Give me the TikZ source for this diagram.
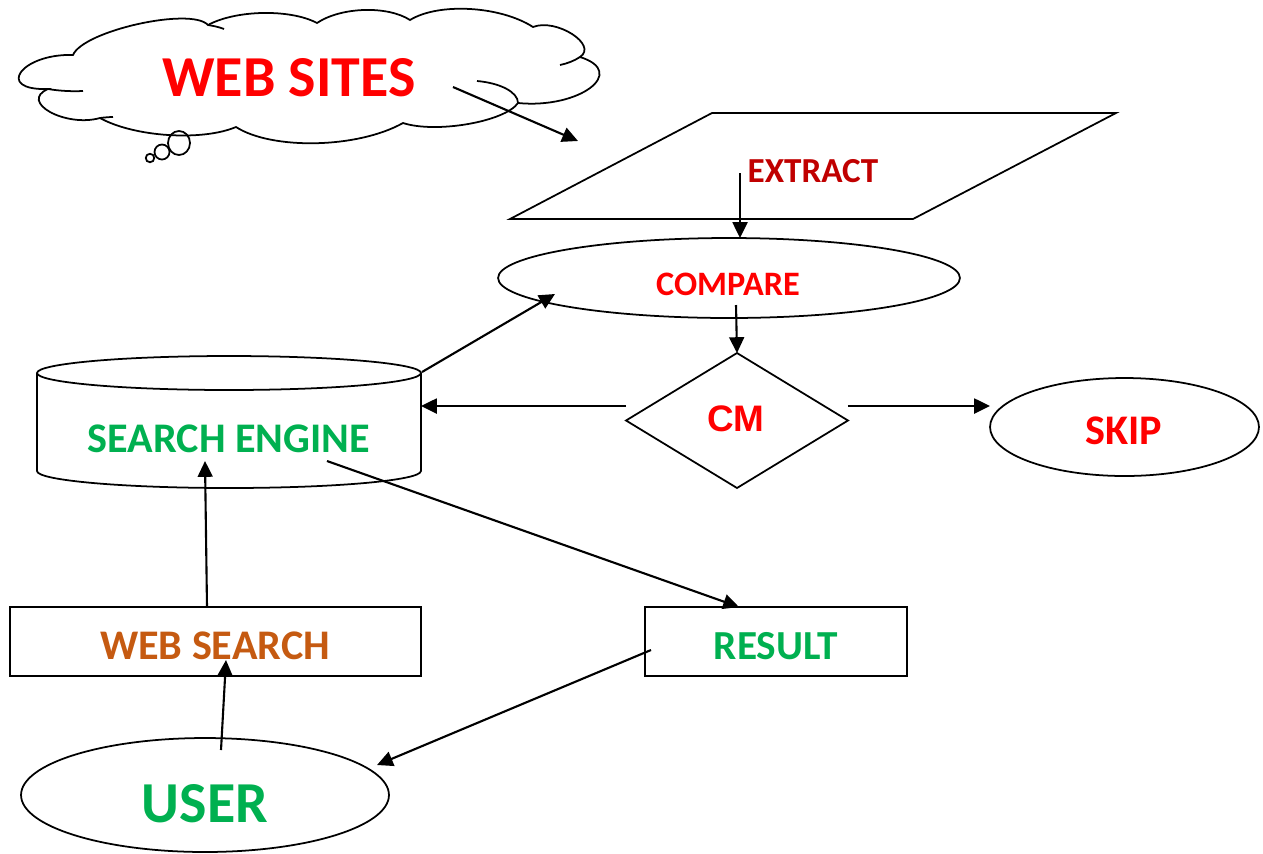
\documentclass[tikz,border=0pt]{standalone}
\usepackage{fontspec}
\setmainfont{Carlito}
\newfontfamily\arialfont{Liberation Sans}
\usetikzlibrary{shapes.geometric,arrows.meta}
\definecolor{cred}{HTML}{FF0000}
\definecolor{cdarkred}{HTML}{C00000}
\definecolor{corange}{HTML}{C55A11}
\definecolor{cgreen}{HTML}{00B050}
\begin{document}
\begin{tikzpicture}[x=0.02cm,y=0.02cm,
  shapeline/.style={draw=black,line width=1pt},
  arr/.style={-{Triangle[length=9pt,width=8.5pt]},line width=1.2pt},
  lbl/.style={inner sep=0pt,outer sep=0pt},
  ell/.style={ellipse,shapeline,inner sep=0pt,outer sep=0pt},
  box/.style={rectangle,shapeline,inner sep=0pt,outer sep=0pt}]
\useasboundingbox (0,0) rectangle (1263,-853);

% ---------- cloud ----------
\draw[shapeline]
  (73,-55) .. controls (83.2,-30.7) and (191.2,-6.7) .. (208,-25)
  .. controls (235.9,-9.8) and (290.4,-8.8) .. (317,-23)
  .. controls (340.9,-6.9) and (387.5,-5.4) .. (410,-20)
  .. controls (438.7,-2.4) and (500.3,-5.9) .. (533,-27)
  .. controls (556,-17.8) and (598.4,-44.8) .. (580,-57)
  .. controls (628.5,-72.3) and (578.9,-109.1) .. (518,-103)
  .. controls (505,-121.7) and (436,-133.7) .. (403,-123)
  .. controls (356.9,-148.8) and (271.4,-149.8) .. (236,-127)
  .. controls (202,-141.4) and (134,-136.9) .. (100,-118)
  .. controls (65.4,-127.8) and (18.6,-101.8) .. (48,-89)
  .. controls (-5.9,-90.7) and (21.6,-53.3) .. (73,-55) -- cycle;
\draw[shapeline] (48,-89) .. controls (60,-91) and (72,-91.5) .. (83,-91);
\draw[shapeline] (100,-118) .. controls (104,-117.5) and (109,-117) .. (113,-117);
\draw[shapeline] (208,-25) .. controls (214,-26) and (219,-27) .. (224,-29);
\draw[shapeline] (580,-57) .. controls (574,-61) and (567,-63.5) .. (560,-65);
\draw[shapeline] (477,-81) .. controls (500,-83) and (518,-92) .. (518,-103);
\draw[shapeline] (179,-143) ellipse [x radius=0.22cm, y radius=0.24cm];
\draw[shapeline] (162,-152) ellipse [x radius=0.15cm, y radius=0.15cm];
\draw[shapeline] (150,-158) circle [radius=0.085cm];
\node[lbl,text=cred,font=\bfseries\fontsize{33}{36}\selectfont] (websites) at (289,-78) {WEB SITES};

% ---------- shapes ----------
\draw[shapeline] (510,-219) -- (712,-113) -- (1116,-113) -- (913,-219) -- cycle;
\node[lbl,text=cdarkred,font=\bfseries\fontsize{20}{24}\selectfont] (extract) at (813,-171.5) {EXTRACT};

\node[ell,minimum width=9.24cm,minimum height=1.6cm] (compare) at (729,-278) {};
\node[lbl,text=cred,font=\bfseries\fontsize{19.5}{23}\selectfont] (comparetext) at (728,-284) {COMPARE};

\node[diamond,shapeline,inner sep=0pt,outer sep=0pt,minimum width=4.44cm,minimum height=2.7cm] (cm) at (737,-420.5) {};
\node[lbl,text=cred,font=\arialfont\bfseries\fontsize{21}{25}\selectfont] (cmtext) at (736,-418.5) {CM};

\node[ell,minimum width=5.38cm,minimum height=1.96cm] (skip) at (1124.5,-427) {};
\node[lbl,text=cred,font=\bfseries\fontsize{24}{28}\selectfont] (skiptext) at (1124,-431) {SKIP};

% search engine cylinder
\node[lbl,minimum width=7.68cm,minimum height=2.64cm] (se) at (229,-422) {};
\draw[shapeline] (37,-373) -- (37,-471) arc[start angle=180,end angle=360,x radius=3.84cm,y radius=0.34cm] -- (421,-373);
\draw[shapeline] (229,-373) ellipse [x radius=3.84cm, y radius=0.34cm];
\node[lbl,text=cgreen,font=\bfseries\fontsize{24}{28}\selectfont] (setext) at (229,-438.5) {SEARCH ENGINE};

\node[box,minimum width=8.22cm,minimum height=1.38cm] (websearch) at (215.5,-641.5) {};
\node[lbl,text=corange,font=\bfseries\fontsize{24}{28}\selectfont] (websearchtext) at (215,-645.5) {WEB SEARCH};

\node[box,minimum width=5.24cm,minimum height=1.38cm] (result) at (776,-641.5) {};
\node[lbl,text=cgreen,font=\bfseries\fontsize{23.5}{28}\selectfont] (resulttext) at (776,-646) {RESULT};

\node[ell,minimum width=7.36cm,minimum height=2.28cm] (user) at (205,-795) {};
\node[lbl,text=cgreen,font=\bfseries\fontsize{33}{38}\selectfont] (usertext) at (205,-803.5) {USER};

% ---------- connector end points ----------
\coordinate (a1) at (453,-87);
\coordinate (a2) at (578,-141);
\coordinate (e1) at (740,-173);
\coordinate (c1) at (736,-305);
\coordinate (s1) at (422,-372);
\coordinate (s2) at (555,-294);
\coordinate (r1) at (327,-461);
\coordinate (r2) at (739,-607);
\coordinate (w1) at (207,-607);
\coordinate (w2) at (205,-461);
\coordinate (u1) at (221,-750);
\coordinate (u2) at (226,-660);
\coordinate (t1) at (651,-650);
\coordinate (t2) at (377,-765);

% ---------- connectors ----------
\draw[arr] (a1) -- (a2);
\draw[arr] (e1) -- (e1 |- compare.north);
\draw[arr] (c1) -- (cm.north);
\draw[arr] ([yshift=0.29cm]cm.east) -- ([yshift=0.29cm]cm.east -| skip.west);
\draw[arr] ([yshift=0.29cm]cm.west) -- ([yshift=0.29cm]cm.west -| se.east);
\draw[arr] (s1) -- (s2);
\draw[arr] (r1) -- (r2);
\draw[arr] (w1) -- (w2);
\draw[arr] (u1) -- (u2);
\draw[arr] (t1) -- (t2);
\end{tikzpicture}
\end{document}
